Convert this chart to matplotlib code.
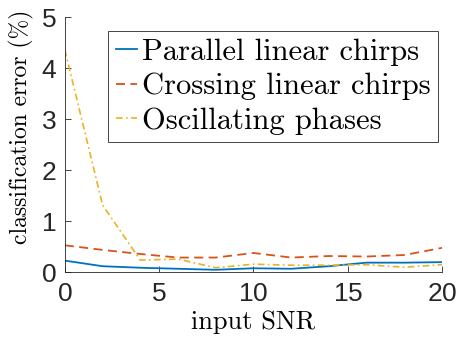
import numpy as np
import matplotlib
matplotlib.use("Agg")
import matplotlib.pyplot as plt

# input SNR values and classification errors (%)
snr = [0, 2, 4, 6, 8, 10, 12, 14, 16, 18, 20]
parallel = [0.23, 0.12, 0.09, 0.07, 0.05, 0.08, 0.07, 0.12, 0.19, 0.19, 0.20]
crossing = [0.53, 0.44, 0.36, 0.29, 0.29, 0.38, 0.29, 0.32, 0.31, 0.34, 0.48]
oscillating = [4.36, 1.32, 0.24, 0.26, 0.09, 0.16, 0.14, 0.14, 0.15, 0.10, 0.15]

labels = ["Parallel linear chirps", "Crossing linear chirps", "Oscillating phases"]

plt.rcParams['axes.formatter.use_mathtext'] = True
serif = ['cmr10', 'DejaVu Serif']
sans = ['Liberation Sans', 'DejaVu Sans']

fig = plt.figure(figsize=(4.6, 3.4), dpi=100)
ax = fig.add_axes([0.141, 0.199, 0.82, 0.75])

ax.plot(snr, parallel, color='#0072BD', linestyle='-', linewidth=1.3)
ax.plot(snr, crossing, color='#D95319', linestyle=(0, (5, 3)), linewidth=1.3)
ax.plot(snr, oscillating, color='#EDB120', linestyle=(0, (4, 2, 1, 2)), linewidth=1.2)

ax.set_xlim(0, 20)
ax.set_ylim(0, 5)
ax.set_xticks([0, 5, 10, 15, 20])
ax.set_yticks([0, 1, 2, 3, 4, 5])

for s in ['top', 'right']:
    ax.spines[s].set_visible(False)
for s in ['left', 'bottom']:
    ax.spines[s].set_color('#262626')
    ax.spines[s].set_linewidth(0.6)
ax.tick_params(direction='in', length=4, width=0.6, colors='#262626', labelsize=19)
ax.tick_params(axis='x', pad=7)
ax.tick_params(axis='y', pad=6)
for lab in ax.get_xticklabels() + ax.get_yticklabels():
    lab.set_family(sans)

ax.set_xlabel("input SNR", family=serif, fontsize=19, labelpad=3)
ax.set_ylabel("classification error (%)", family=serif, fontsize=17)
ax.yaxis.set_label_coords(-0.082, 0.572)

leg = ax.legend(labels, loc='upper right', bbox_to_anchor=(0.989, 0.946),
                prop={'family': serif, 'size': 22},
                handlelength=0.7, handletextpad=0.15, borderpad=0.25, labelspacing=0.22,
                fancybox=False, edgecolor='#262626', framealpha=1, borderaxespad=0)
leg.get_frame().set_linewidth(0.6)

fig.savefig("out.png", dpi=100)
